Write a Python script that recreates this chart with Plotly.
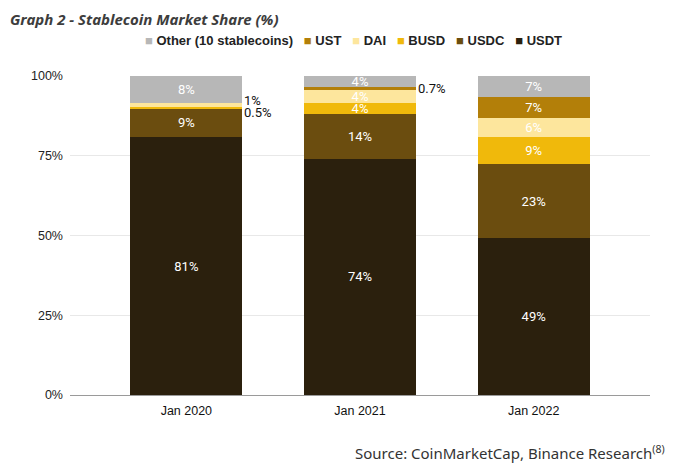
import plotly.graph_objects as go

categories = ["Jan 2020", "Jan 2021", "Jan 2022"]
usdt = [80.8, 74.0, 49.1]
usdc = [9.1, 14.0, 23.3]
busd = [0.5, 3.6, 8.6]
dai = [1.1, 4.2, 5.7]
ust = [0.0, 0.6, 6.6]
other = [8.5, 3.6, 6.7]

usdt_lbl = ["81%", "74%", "49%"]
usdc_lbl = ["9%", "14%", "23%"]
busd_lbl = ["", "4%", "9%"]
dai_lbl = ["", "4%", "6%"]
ust_lbl = ["", "", "7%"]
other_lbl = ["8%", "4%", "7%"]

series = [
    ("USDT", usdt, usdt_lbl, "#2b200d"),
    ("USDC", usdc, usdc_lbl, "#6b4d0f"),
    ("BUSD", busd, busd_lbl, "#f0b90b"),
    ("DAI", dai, dai_lbl, "#fde69d"),
    ("UST", ust, ust_lbl, "#b37f09"),
    ("Other (10 stablecoins)", other, other_lbl, "#b7b7b7"),
]

fig = go.Figure()
for name, vals, lbl, col in series:
    fig.add_trace(go.Bar(
        x=categories, y=vals, name=name, text=lbl,
        marker=dict(color=col, line=dict(width=0)),
        textposition="inside", insidetextanchor="middle",
        textfont=dict(family="Roboto", size=13, color="white"),
        width=0.645, textangle=0, cliponaxis=False,
        showlegend=False,
    ))

# cumulative positions for outside labels
cum_busd = [a + b for a, b in zip(usdt, usdc)]
cum_dai = [c + b for c, b in zip(cum_busd, busd)]
cum_ust = [c + d for c, d in zip(cum_dai, dai)]

annots = [
    dict(x=categories[0], y=cum_dai[0] + dai[0], text="1%", yshift=3),
    dict(x=categories[0], y=cum_busd[0], text="0.5%", yshift=-4),
    dict(x=categories[1], y=cum_ust[1] + ust[1] / 2, text="0.7%", yshift=0),
]
ann_list = []
for a in annots:
    ann_list.append(dict(
        x=a["x"], y=a["y"], text=a["text"], xref="x", yref="y",
        xanchor="left", yanchor="middle", showarrow=False,
        xshift=56, yshift=a["yshift"],
        font=dict(family="Roboto", size=13, color="#111"),
    ))

# page offset (browser body margin)
OFF = 8

# legend built as text (reversed stack order)
parts = []
for name, vals, lbl, col in reversed(series):
    parts.append(f"<span style='color:{col}'>■</span> {name}")
legend_text = "<b>" + "   ".join(parts) + "</b>"
ann_list.append(dict(
    x=353 - OFF, y=41 - OFF, xref="paper", yref="paper", text=legend_text,
    showarrow=False, xanchor="center", yanchor="middle",
    font=dict(family="Liberation Sans", size=13, color="#222"),
))

ann_list.append(dict(
    x=9 - OFF, y=OFF - OFF, xref="paper", yref="paper", xanchor="left", yanchor="top",
    text="<b><i>Graph 2 - Stablecoin Market Share (%)</i></b>", borderpad=0,
    showarrow=False, font=dict(family="Noto Sans", size=15, color="#3d3d3d"),
))

ann_list.append(dict(
    x=667 - OFF, y=452 - OFF, xref="paper", yref="paper", xanchor="right", yanchor="middle",
    text="Source: CoinMarketCap, Binance Research<sup>(8)</sup>",
    showarrow=False, font=dict(family="Noto Sans", size=15, color="#333"),
))

W, H = 680 - OFF, 470 - OFF
L, T = 70 - OFF, 76 - OFF
R = W - (650 - OFF)
B = H - (395 - OFF)
pw, ph = W - L - R, H - T - B
for a in ann_list:
    if a["xref"] == "paper":
        a["x"] = (a["x"] - L) / pw
        a["y"] = (H - B - a["y"]) / ph

fig.update_layout(
    width=W, height=H,
    barmode="stack",
    paper_bgcolor="white", plot_bgcolor="white",
    margin=dict(l=L, r=R, t=T, b=B, autoexpand=False),
    annotations=ann_list,
    showlegend=False,
    uniformtext=dict(minsize=12, mode="show"),
)
fig.update_xaxes(
    range=[-0.67, 2.67], showgrid=False,
    showline=True, linecolor="#9a9a9a", linewidth=1,
    tickfont=dict(family="Liberation Sans", size=12.5, color="#111"),
    ticks="", ticklabelstandoff=4,
)
fig.update_yaxes(
    range=[0, 100], tickvals=[0, 25, 50, 75, 100],
    ticktext=["0%", "25%", "50%", "75%", "100%"],
    showgrid=True, gridcolor="#e8e8e8", gridwidth=1,
    zeroline=False, showline=False,
    tickfont=dict(family="Liberation Sans", size=12.5, color="#222"),
    ticks="", ticklen=0, ticklabelstandoff=6,
)

fig.write_html("out.html")
